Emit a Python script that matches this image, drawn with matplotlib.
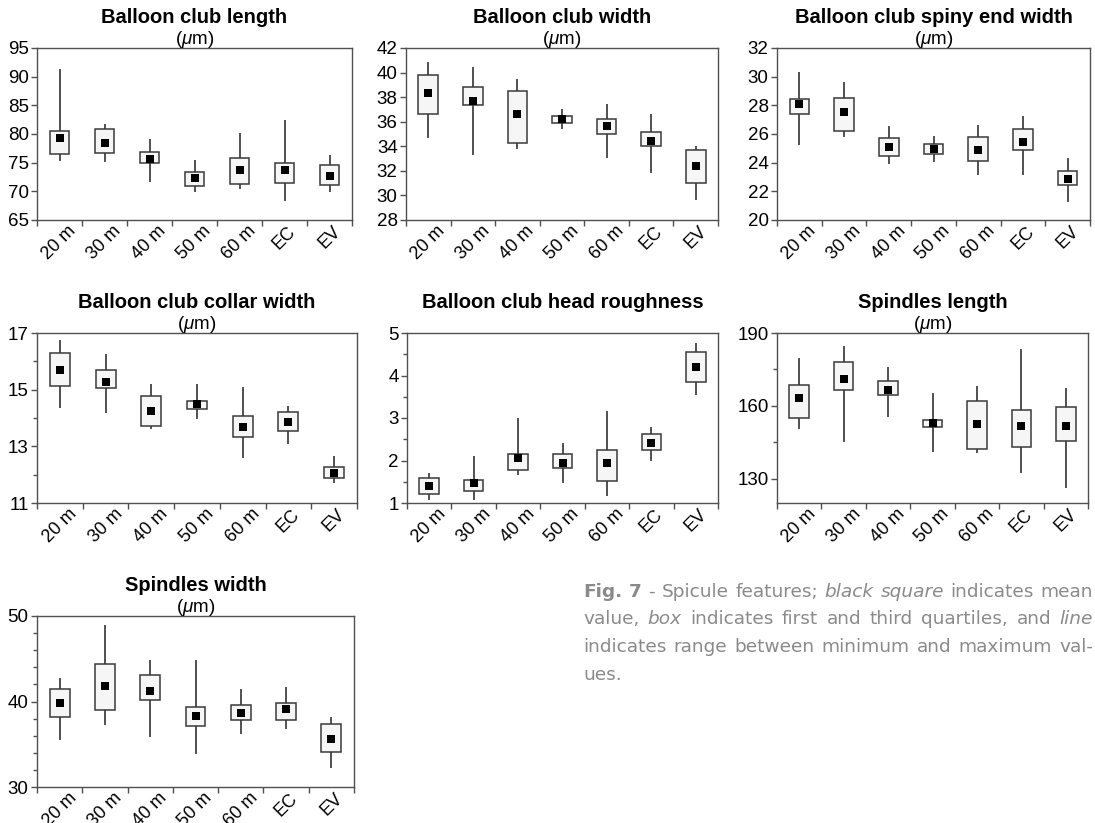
import numpy as np
import matplotlib
matplotlib.use("Agg")
import matplotlib.pyplot as plt

plt.rcParams["font.family"] = ["Liberation Sans", "DejaVu Sans"]
plt.rcParams["mathtext.fontset"] = "custom"
plt.rcParams["mathtext.rm"] = "Liberation Sans"
plt.rcParams["mathtext.it"] = "Liberation Sans:italic"

W, H = 1095, 823

categories = ["20 m", "30 m", "40 m", "50 m", "60 m", "EC", "EV"]

# each panel: min, q1, mean, q3, max per category
length_min = [75.3, 75.2, 71.6, 69.8, 70.4, 68.3, 69.9]
length_q1 = [76.5, 76.6, 74.9, 71.0, 71.3, 71.4, 71.1]
length_mean = [79.3, 78.5, 75.6, 72.4, 73.8, 73.7, 72.7]
length_q3 = [80.6, 80.9, 76.8, 73.4, 75.8, 74.9, 74.6]
length_max = [91.3, 81.7, 79.1, 75.4, 80.1, 82.4, 76.3]

width_min = [34.7, 33.3, 33.8, 35.4, 33.05, 31.8, 29.6]
width_q1 = [36.6, 37.4, 34.3, 35.9, 35.04, 34.06, 31.0]
width_mean = [38.3, 37.7, 36.6, 36.24, 35.64, 34.47, 32.42]
width_q3 = [39.84, 38.86, 38.5, 36.46, 36.2, 35.18, 33.73]
width_max = [40.85, 40.45, 39.5, 37.0, 37.47, 36.6, 34.0]

spiny_min = [25.2, 25.78, 23.93, 24.05, 23.11, 23.11, 21.24]
spiny_q1 = [27.42, 26.22, 24.49, 24.61, 24.12, 24.87, 22.41]
spiny_mean = [28.07, 27.56, 25.08, 24.94, 24.91, 25.45, 22.88]
spiny_q3 = [28.42, 28.49, 25.75, 25.29, 25.8, 26.34, 23.42]
spiny_max = [30.34, 29.64, 26.53, 25.85, 26.64, 27.25, 24.33]

collar_min = [14.35, 14.18, 13.6, 13.98, 12.59, 13.08, 11.72]
collar_q1 = [15.14, 15.07, 13.72, 14.32, 13.32, 13.55, 11.88]
collar_mean = [15.68, 15.27, 14.24, 14.49, 13.68, 13.85, 12.07]
collar_q3 = [16.29, 15.71, 14.78, 14.6, 14.07, 14.21, 12.28]
collar_max = [16.76, 16.27, 15.21, 15.21, 15.09, 14.44, 12.67]

rough_min = [1.06, 1.06, 1.66, 1.47, 1.16, 2.0, 3.55]
rough_q1 = [1.21, 1.29, 1.77, 1.82, 1.52, 2.25, 3.84]
rough_mean = [1.41, 1.47, 2.07, 1.95, 1.93, 2.41, 4.2]
rough_q3 = [1.58, 1.53, 2.15, 2.16, 2.24, 2.62, 4.56]
rough_max = [1.70, 2.11, 3.0, 2.41, 3.16, 2.8, 4.76]

slen_min = [150.6, 145.2, 155.4, 141.1, 140.7, 132.3, 126.3]
slen_q1 = [154.8, 166.7, 164.5, 151.2, 142.4, 142.9, 145.7]
slen_mean = [163.1, 171.0, 166.7, 153.1, 152.5, 151.9, 151.5]
slen_q3 = [168.6, 178.2, 170.2, 154.3, 162.0, 158.4, 159.5]
slen_max = [179.8, 184.8, 175.9, 165.3, 168.0, 183.6, 167.3]

swid_min = [35.49, 37.28, 35.84, 33.81, 36.19, 36.73, 32.22]
swid_q1 = [38.21, 38.99, 40.16, 37.16, 37.82, 37.82, 34.12]
swid_mean = [39.84, 41.83, 41.2, 38.29, 38.64, 39.1, 35.64]
swid_q3 = [41.52, 44.4, 43.07, 39.3, 39.57, 39.77, 37.35]
swid_max = [42.72, 48.95, 44.9, 44.86, 41.44, 41.71, 38.13]

panels = [
    # title, unit, stats, ylim, major, minor, axes rect in px (left, top, right, bottom)
    ("Balloon club length", True,
     (length_min, length_q1, length_mean, length_q3, length_max),
     (65, 95), np.arange(65, 96, 5), [], (37, 48, 352, 220)),
    ("Balloon club width", True,
     (width_min, width_q1, width_mean, width_q3, width_max),
     (28, 42), np.arange(28, 43, 2), [], (406, 48, 718, 220)),
    ("Balloon club spiny end width", True,
     (spiny_min, spiny_q1, spiny_mean, spiny_q3, spiny_max),
     (20, 32), np.arange(20, 33, 2), [], (777, 48, 1090, 220)),
    ("Balloon club collar width", True,
     (collar_min, collar_q1, collar_mean, collar_q3, collar_max),
     (11, 17), [11, 13, 15, 17], [12, 14, 16], (37, 333, 357, 503)),
    ("Balloon club head roughness", False,
     (rough_min, rough_q1, rough_mean, rough_q3, rough_max),
     (1, 5), [1, 2, 3, 4, 5], [1.5, 2.5, 3.5, 4.5], (407, 333, 718, 503)),
    ("Spindles length", True,
     (slen_min, slen_q1, slen_mean, slen_q3, slen_max),
     (120, 190), [130, 160, 190], [145, 175], (777, 333, 1088, 503)),
    ("Spindles width", True,
     (swid_min, swid_q1, swid_mean, swid_q3, swid_max),
     (30, 50), [30, 40, 50], [32, 34, 36, 38, 42, 44, 46, 48], (37, 616, 354, 787)),
]

fig = plt.figure(figsize=(W / 100, H / 100), dpi=100)

x = np.arange(len(categories))
spine_c = "#505050"

for title, unit, stats, ylim, major, minor, rect in panels:
    l, t, r, b = rect
    ax = fig.add_axes([l / W, 1 - b / H, (r - l) / W, (b - t) / H])
    lo, q1, mean, q3, hi = [np.array(s) for s in stats]
    ax.vlines(x, lo, hi, color="#222222", lw=1.1, zorder=1)
    ax.bar(x, q3 - q1, bottom=q1, width=0.44, color="#f5f6f5",
           edgecolor="#3a3a3a", linewidth=1.1, zorder=2)
    ax.scatter(x, mean, marker="s", s=32, color="black", zorder=3, linewidths=0)

    ax.set_xlim(-0.5, len(categories) - 0.5)
    ax.set_ylim(*ylim)
    ax.set_xticks(np.arange(-0.5, len(categories), 1))
    ax.set_xticklabels([])
    ax.set_xticks(x, minor=True)
    ax.set_xticklabels(categories, minor=True, rotation=45, ha="center",
                       fontsize=13)
    ax.tick_params(axis="x", which="major", length=4, width=1, color=spine_c)
    ax.tick_params(axis="x", which="minor", length=0, pad=2)
    ax.set_yticks(major)
    ax.set_yticks(minor, minor=True)
    ax.tick_params(axis="y", which="major", length=4, width=1, color=spine_c,
                   labelsize=13.5, pad=2)
    ax.tick_params(axis="y", which="minor", length=3, width=1, color=spine_c)
    for sp in ax.spines.values():
        sp.set_color(spine_c)
        sp.set_linewidth(1)

    ax.annotate(title, xy=(0.5, 1), xycoords="axes fraction",
                xytext=(0, 22), textcoords="offset points",
                ha="center", va="center", fontsize=14.5, fontweight="bold")
    if unit:
        ax.annotate(r"($\mu$m)", xy=(0.5, 1), xycoords="axes fraction",
                    xytext=(0, 6), textcoords="offset points",
                    ha="center", va="center", fontsize=13.5)

# justified caption
cap_color = "#8a8a8a"
cap_font = ["DejaVu Sans"]
cap_size = 13.3
lines = [
    [("Fig.", "b"), ("7", "b"), ("-", "n"), ("Spicule", "n"), ("features;", "n"),
     ("black", "i"), ("square", "i"), ("indicates", "n"), ("mean", "n")],
    [("value,", "n"), ("box", "i"), ("indicates", "n"), ("first", "n"), ("and", "n"),
     ("third", "n"), ("quartiles,", "n"), ("and", "n"), ("line", "i")],
    [("indicates", "n"), ("range", "n"), ("between", "n"), ("minimum", "n"),
     ("and", "n"), ("maximum", "n"), ("val-", "n")],
    [("ues.", "n")],
]
cap_left, cap_right = 583, 1093
baseline0, line_step = 597, 27.5

renderer = fig.canvas.get_renderer()
for i, words in enumerate(lines):
    y = 1 - (baseline0 + i * line_step) / H
    texts = []
    for w, st in words:
        kw = dict(fontsize=cap_size, color=cap_color, family=cap_font, va="baseline", ha="left")
        if st == "b":
            kw["fontweight"] = "bold"
        if st == "i":
            kw["style"] = "italic"
        texts.append(fig.text(cap_left / W, y, w, **kw))
    widths = [tx.get_window_extent(renderer).width for tx in texts]
    if len(texts) > 1 and i < len(lines) - 1:
        gap = (cap_right - cap_left - sum(widths)) / (len(texts) - 1)
    else:
        gap = 5
    xpos = cap_left
    for tx, wd in zip(texts, widths):
        tx.set_x(xpos / W)
        xpos += wd + gap

fig.savefig("out.png", dpi=100)
